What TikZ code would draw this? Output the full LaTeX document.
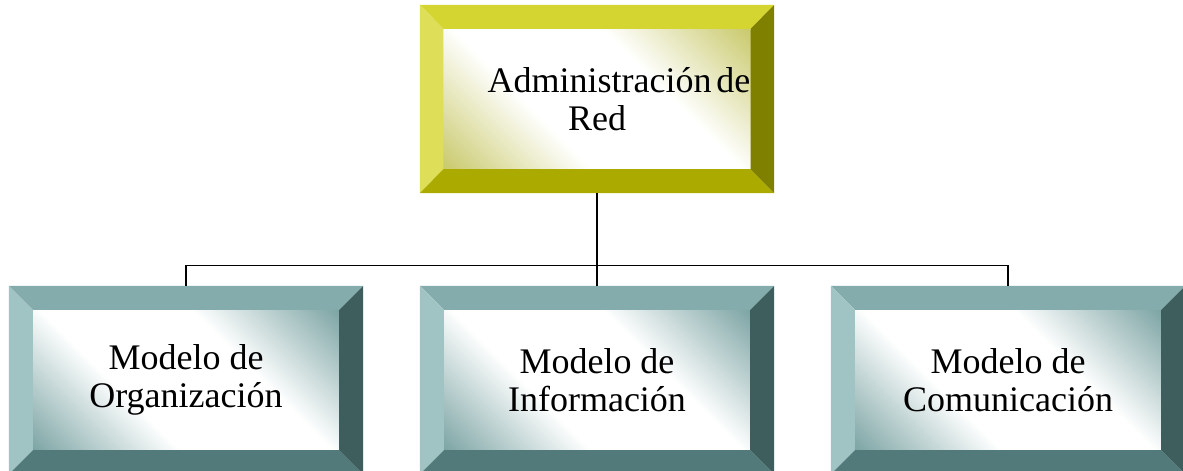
\documentclass[tikz,border=0pt]{standalone}
\usepackage{fontspec}
\setmainfont{Liberation Serif}
\newfontfamily\boxserif{Liberation Serif}
\usetikzlibrary{calc}
\definecolor{olivetop}{RGB}{213,213,49}
\definecolor{oliveleft}{RGB}{222,222,88}
\definecolor{olivebottom}{RGB}{170,170,0}
\definecolor{oliveright}{RGB}{128,128,0}
\definecolor{oliveface}{RGB}{200,200,105}
\definecolor{tealtop}{RGB}{132,172,172}
\definecolor{tealleft}{RGB}{160,196,196}
\definecolor{tealbottom}{RGB}{82,122,122}
\definecolor{tealright}{RGB}{62,94,94}
\definecolor{tealface}{RGB}{122,162,162}
\pgfdeclarehorizontalshading{olivefade}{100bp}{color(0bp)=(oliveface); color(14bp)=(oliveface);
  color(38bp)=(white); color(62bp)=(white); color(86bp)=(oliveface); color(100bp)=(oliveface)}
\pgfdeclarehorizontalshading{tealfade}{100bp}{color(0bp)=(tealface); color(14bp)=(tealface);
  color(38bp)=(white); color(62bp)=(white); color(86bp)=(tealface); color(100bp)=(tealface)}
\newcommand{\boxfont}{\boxserif\fontsize{36}{38}\selectfont}
% four sloped sides between the frame and its face
\newcommand{\bevelsides}[5]{%
  \fill[#2] (#1-frame.north west) -- (#1-frame.north east) -- (#1.north east) -- (#1.north west) -- cycle;
  \fill[#3] (#1-frame.north west) -- (#1.north west) -- (#1.south west) -- (#1-frame.south west) -- cycle;
  \fill[#4] (#1-frame.south west) -- (#1.south west) -- (#1.south east) -- (#1-frame.south east) -- cycle;
  \fill[#5] (#1-frame.north east) -- (#1-frame.south east) -- (#1.south east) -- (#1.north east) -- cycle;
}

\begin{document}
\begin{tikzpicture}[x=1pt, y=-1pt,
    bevelframe/.style={rectangle, minimum width=354pt, minimum height=188pt, inner sep=0pt},
    bevelface/.style={rectangle, minimum width=306pt, minimum height=140pt, inner sep=0pt,
      align=center, font=\boxfont, shade, shading angle=45},
    link/.style={draw=black, line width=1.1pt}
  ]
    \useasboundingbox[fill=white] (0,0) rectangle (1183,471);

    % root
    \node[bevelframe] (adm-frame) at (597,99) {};
    \node[bevelface, shading=olivefade] (adm) at (597,99) {\hspace*{44pt}Administración\hspace{5pt}de\\Red};
    \bevelsides{adm}{olivetop}{oliveleft}{olivebottom}{oliveright}

    % children
    \node[bevelframe] (org-frame) at (186,380) {};
    \node[bevelface, shading=tealfade] (org) at (186,380) {Modelo de\\Organización};
    \node[bevelframe] (inf-frame) at (597,380) {};
    \node[bevelface, shading=tealfade] (inf) at (597,380) {Modelo de\\Información};
    \node[bevelframe] (com-frame) at (1008,380) {};
    \node[bevelface, shading=tealfade] (com) at (1008,380) {Modelo de\\Comunicación};
    \foreach \n in {org,inf,com}
      \bevelsides{\n}{tealtop}{tealleft}{tealbottom}{tealright};

    % tree lines
    \foreach \n in {org,inf,com}
      \draw[link] (adm-frame.south) -- ++(0,72) -| (\n-frame.north);
\end{tikzpicture}
\end{document}
